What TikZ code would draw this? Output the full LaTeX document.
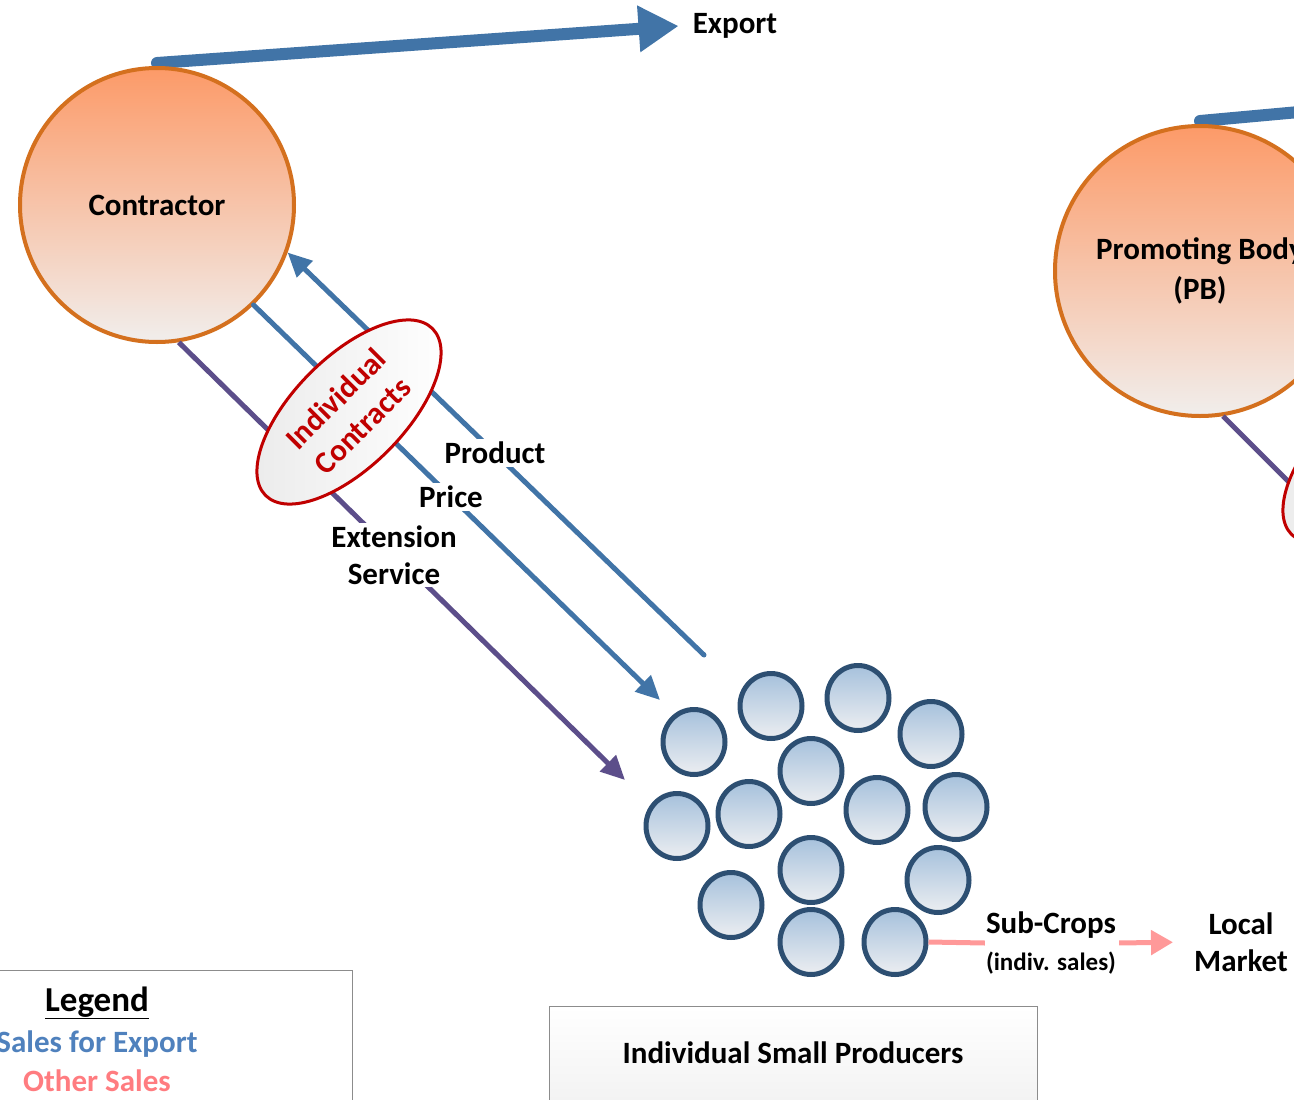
\documentclass[tikz,border=0pt]{standalone}
\usepackage{fontspec}
\setmainfont{Carlito}
\usetikzlibrary{arrows.meta,shapes.geometric}
\pgfdeclarelayer{paper}
\pgfdeclarelayer{under}
\pgfsetlayers{paper,under,main}
\definecolor{orfill}{RGB}{252,154,104}
\definecolor{orbot}{RGB}{241,238,236}
\definecolor{orline}{RGB}{212,112,30}
\definecolor{expblue}{RGB}{65,116,167}
\definecolor{purp}{RGB}{92,78,138}
\definecolor{cred}{RGB}{192,0,0}
\definecolor{pdraw}{RGB}{45,79,114}
\definecolor{ptop}{RGB}{166,193,220}
\definecolor{pbot}{RGB}{236,238,241}
\definecolor{pinkline}{RGB}{255,153,153}
\definecolor{legblue}{RGB}{79,129,189}
\definecolor{legpink}{RGB}{255,124,128}
\definecolor{boxgray}{RGB}{140,140,140}
\tikzset{
  actor/.style={circle, draw=orline, line width=4pt, top color=orfill, bottom color=orbot,
    font=\fontsize{31}{40}\selectfont\bfseries, align=center, inner sep=0pt},
  farmer/.style={ellipse, draw=pdraw, line width=5pt, top color=ptop, bottom color=pbot,
    minimum width=62pt, minimum height=65pt, inner sep=0pt},
  contract/.style={ellipse, draw=cred, line width=3pt, left color=black!8, right color=white,
    minimum width=236pt, minimum height=110pt, rotate=45, text=cred,
    font=\fontsize{31}{38}\selectfont\bfseries, align=center, inner sep=0pt},
  lbl/.style={font=\fontsize{31}{37}\selectfont\bfseries, align=center, inner sep=3pt},
  flow/.style={draw=expblue, line width=5pt, line cap=round},
  extflow/.style={draw=purp, line width=5pt},
  thinhead/.style={-{Triangle[length=24pt,width=22pt]}},
  exportline/.style={draw=expblue, line width=12pt, line cap=round},
  pinkflow/.style={draw=pinkline, line width=5pt},
}
\begin{document}
\begin{tikzpicture}[x=1pt,y=-1pt]
\useasboundingbox (0,0) rectangle (1294,1100);
\begin{pgfonlayer}{paper}
  \fill[white] (0,0) rectangle (1294,1100);
\end{pgfonlayer}

% main actors
\node[actor, minimum size=274pt] (c) at (157,205) {Contractor};
\node[actor, minimum size=290pt] (pb) at (1200,271) {Promoting Body\\(PB)};

% export arrows (behind the circles)
\node[lbl] (export) at (735,26) {Export};
\begin{pgfonlayer}{under}
  \draw[exportline, -{Triangle[length=40pt,width=44pt]}] ([yshift=3pt]c.north) -- ([xshift=-11pt]export.west);
  \draw[exportline] ([yshift=3pt]pb.north) -- ++(220,-20);
\end{pgfonlayer}

% producers
\node[farmer] (p1) at (694,742) {};
\node[farmer] (p2) at (771,706) {};
\node[farmer] (p3) at (858,698) {};
\node[farmer] (p4) at (931,734) {};
\node[farmer] (p5) at (811,771) {};
\node[farmer] (p6) at (677,826) {};
\node[farmer] (p7) at (749,814) {};
\node[farmer] (p8) at (877,810) {};
\node[farmer] (p9) at (956,807) {};
\node[farmer] (p10) at (811,870) {};
\node[farmer] (p11) at (938,880) {};
\node[farmer] (p12) at (731,905) {};
\node[farmer] (p13) at (811,942) {};
\node[farmer] (p14) at (895,942) {};

% flows between contractor and producers
\coordinate (prodstart) at (704,655);
\coordinate (priceend) at (660,700);
\coordinate (extend) at (625,780);
\draw[flow, thinhead] (prodstart) -- (c.-20);
\draw[flow, thinhead] (c.-46) -- (priceend);
\draw[extflow, thinhead] (c.-81) -- (extend);

% PB side (cut off)
\draw[extflow] (pb.-81) -- ++(110,110);
\node[contract] (pbcontract) at (1375,451) {};

% contracts ellipse
\node[contract] (contract) at (349,412) {Individual\\Contracts};

% labels on the flows
\node[lbl, fill=white] (product) at (495,453) {Product};
\node[lbl, fill=white] (price) at (451,497) {Price};
\node[lbl, fill=white] (extension) at (394,555) {Extension\\Service};

% sub-crops
\node[lbl, inner sep=1pt] (sub) at (1051,943) {Sub-Crops\\{\fontsize{25}{30}\selectfont (indiv. sales)}};
\node[lbl] (local) at (1241,942) {Local\\Market};
\draw[pinkflow] (p14.east) -- (sub.west);
\draw[pinkflow, -{Triangle[length=22pt,width=24pt]}, shorten <=2pt, shorten >=18pt] (sub.east) -- (local.west);

% legend
\draw[draw=boxgray, line width=1pt, fill=white] (-10,970) rectangle (352,1130);
\node[font=\fontsize{35}{40}\selectfont\bfseries] (legend) at (97,1003) {\underline{Legend}};
\node[lbl, text=legblue] (legexp) at (97,1044) {Sales for Export};
\node[lbl, text=legpink] (legother) at (97,1081) {Other Sales};

% producers box
\node[draw=boxgray, line width=1.2pt, top color=white, bottom color=black!7, anchor=north west,
  minimum width=488pt, minimum height=140pt, inner sep=0pt] (pbox) at (549,1006) {};
\node[lbl] (pboxtext) at (793,1053) {Individual Small Producers};
\end{tikzpicture}
\end{document}
